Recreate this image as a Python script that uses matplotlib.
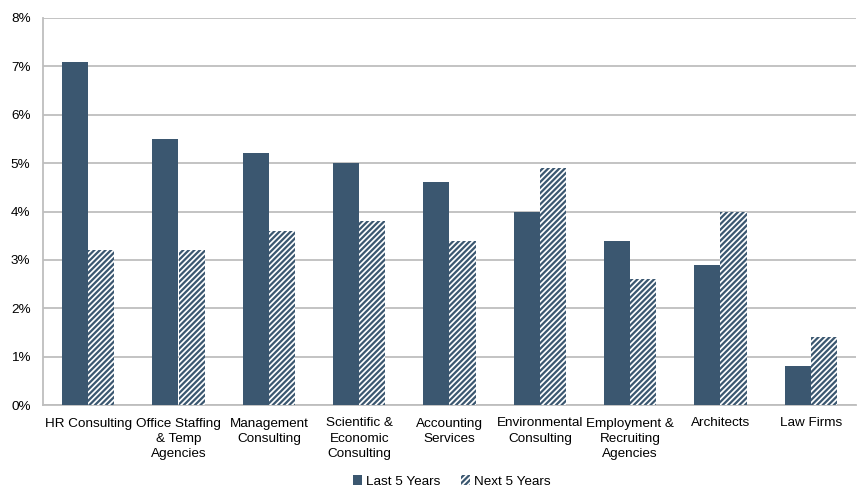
import numpy as np
import matplotlib.pyplot as plt
from matplotlib.ticker import FuncFormatter

plt.rcParams['font.family'] = ['Liberation Sans', 'DejaVu Sans']
plt.rcParams['font.size'] = 9.7
plt.rcParams['hatch.linewidth'] = 1.6

categories = ['HR Consulting', 'Office Staffing\n& Temp\nAgencies', 'Management\nConsulting',
              'Scientific &\nEconomic\nConsulting', 'Accounting\nServices', 'Environmental\nConsulting',
              'Employment &\nRecruiting\nAgencies', 'Architects', 'Law Firms']
last5 = [7.1, 5.5, 5.2, 5.0, 4.6, 4.0, 3.4, 2.9, 0.8]
next5 = [3.2, 3.2, 3.6, 3.8, 3.4, 4.9, 2.6, 4.0, 1.4]

dark = '#3B5770'

fig = plt.figure(figsize=(8.57, 4.91), dpi=100)
ax = fig.add_axes([43/857, 86/491, 813/857, 387/491])

x = np.arange(len(categories))
w = 0.29
ax.bar(x - w/2, last5, w, color=dark, label='Last 5 Years', zorder=3)
ax.bar(x + w/2, next5, w, color='white', edgecolor=dark, hatch='//////', linewidth=0,
       label='Next 5 Years', zorder=3)

ax.set_xlim(-0.5, len(categories) - 0.5)
ax.set_ylim(0, 8)
ax.set_yticks(range(0, 9))
ax.yaxis.set_major_formatter(FuncFormatter(lambda v, p: f'{int(v)}%'))
ax.set_xticks(x)
ax.set_xticklabels(categories, linespacing=1.38, va='top')
ax.tick_params(axis='x', length=0, pad=9)
ax.tick_params(axis='y', length=0, pad=9)
ax.grid(axis='y', color='#BEBEBE', linewidth=1.3, zorder=0)
for s in ['top', 'right']:
    ax.spines[s].set_visible(False)
ax.spines['left'].set_color('#BEBEBE')
ax.spines['bottom'].set_color('#BEBEBE')
ax.spines['left'].set_linewidth(1.3)
ax.spines['bottom'].set_linewidth(1.3)

fig.legend(loc='lower center', bbox_to_anchor=(0.527, -0.018), ncol=2, frameon=False,
           handlelength=0.7, handleheight=0.7, handletextpad=0.3, columnspacing=1.5)

fig.savefig('out.png', dpi=100)
